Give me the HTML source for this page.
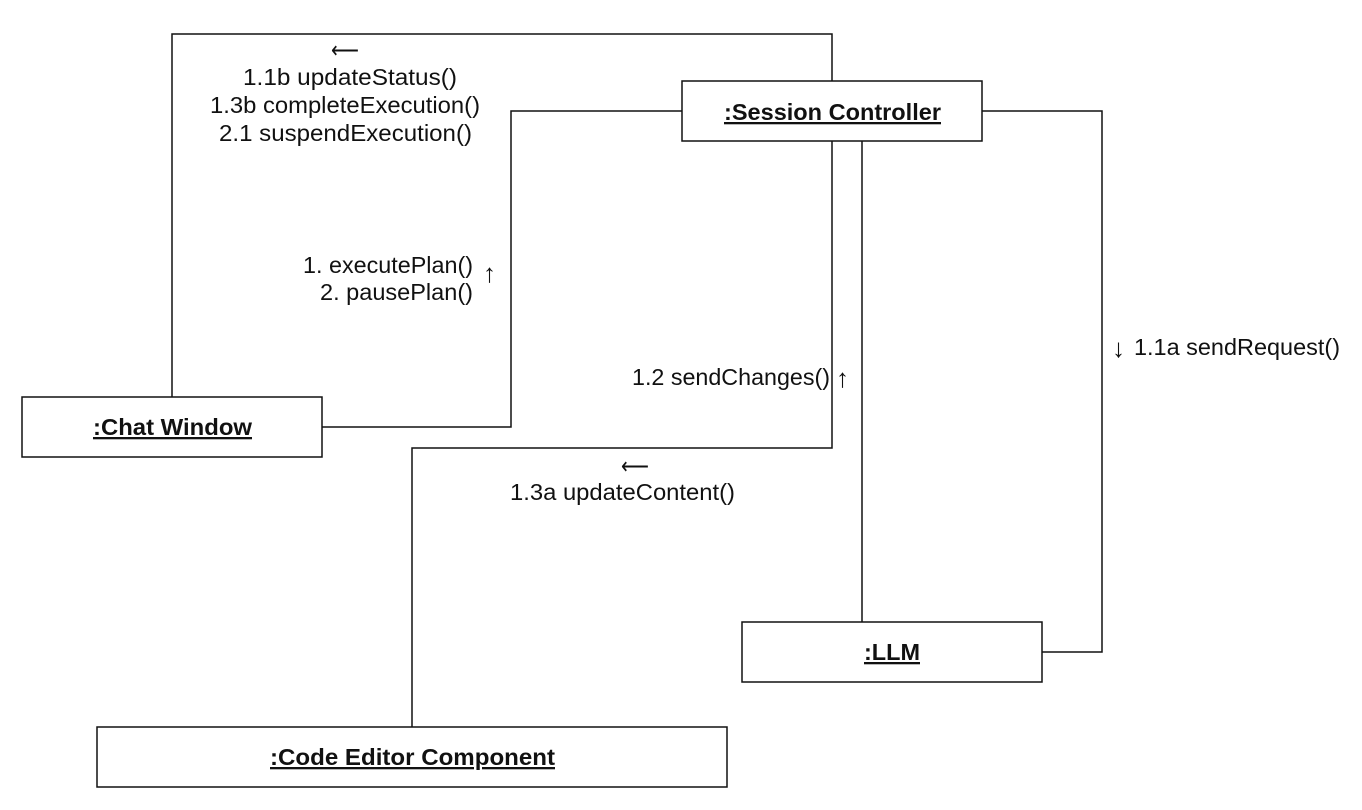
<!DOCTYPE html>
<html><head><meta charset="utf-8"><style>
html,body{margin:0;padding:0;background:#fff;}
svg{display:block;}
text{font-family:"Liberation Sans",Arial,sans-serif;font-size:23px;fill:#111;}
.b{font-weight:bold;text-decoration:underline;font-size:23px;}
.ar{font-size:26px;}
</style></head><body>
<svg width="1362" height="810" viewBox="0 0 1362 810">
<g fill="none" stroke="#111" stroke-width="1.5">
<polyline points="172,397 172,34 832,34 832,81"/>
<polyline points="322,427 511,427 511,111 682,111"/>
<polyline points="832,141 832,448 412,448 412,727"/>
<line x1="862" y1="141" x2="862" y2="622"/>
<polyline points="982,111 1102,111 1102,652 1042,652"/>
<rect x="682" y="81" width="300" height="60" fill="#fff"/>
<rect x="22" y="397" width="300" height="60" fill="#fff"/>
<rect x="742" y="622" width="300" height="60" fill="#fff"/>
<rect x="97" y="727" width="630" height="60" fill="#fff"/>
</g>
<text class="b" x="724" y="120" textLength="217" lengthAdjust="spacingAndGlyphs">:Session Controller</text>
<text class="b" x="93" y="435" textLength="159" lengthAdjust="spacingAndGlyphs">:Chat Window</text>
<text class="b" x="864" y="660" textLength="56" lengthAdjust="spacingAndGlyphs">:LLM</text>
<text class="b" x="270" y="765" textLength="285" lengthAdjust="spacingAndGlyphs">:Code Editor Component</text>
<text x="331" y="58" textLength="28" lengthAdjust="spacingAndGlyphs">⟵</text>
<text x="243" y="85" textLength="214" lengthAdjust="spacingAndGlyphs">1.1b updateStatus()</text>
<text x="210" y="113" textLength="270" lengthAdjust="spacingAndGlyphs">1.3b completeExecution()</text>
<text x="219" y="141" textLength="253" lengthAdjust="spacingAndGlyphs">2.1 suspendExecution()</text>
<text x="303" y="273" textLength="170" lengthAdjust="spacingAndGlyphs">1. executePlan()</text>
<text x="320" y="300" textLength="153" lengthAdjust="spacingAndGlyphs">2. pausePlan()</text>
<text class="ar" x="483" y="282">↑</text>
<text x="632" y="385" textLength="198" lengthAdjust="spacingAndGlyphs">1.2 sendChanges()</text>
<text class="ar" x="836" y="387">↑</text>
<text x="621" y="474" textLength="28" lengthAdjust="spacingAndGlyphs">⟵</text>
<text x="510" y="500" textLength="225" lengthAdjust="spacingAndGlyphs">1.3a updateContent()</text>
<text class="ar" x="1112" y="357">↓</text>
<text x="1134" y="355" textLength="206" lengthAdjust="spacingAndGlyphs">1.1a sendRequest()</text>
</svg>
</body></html>
